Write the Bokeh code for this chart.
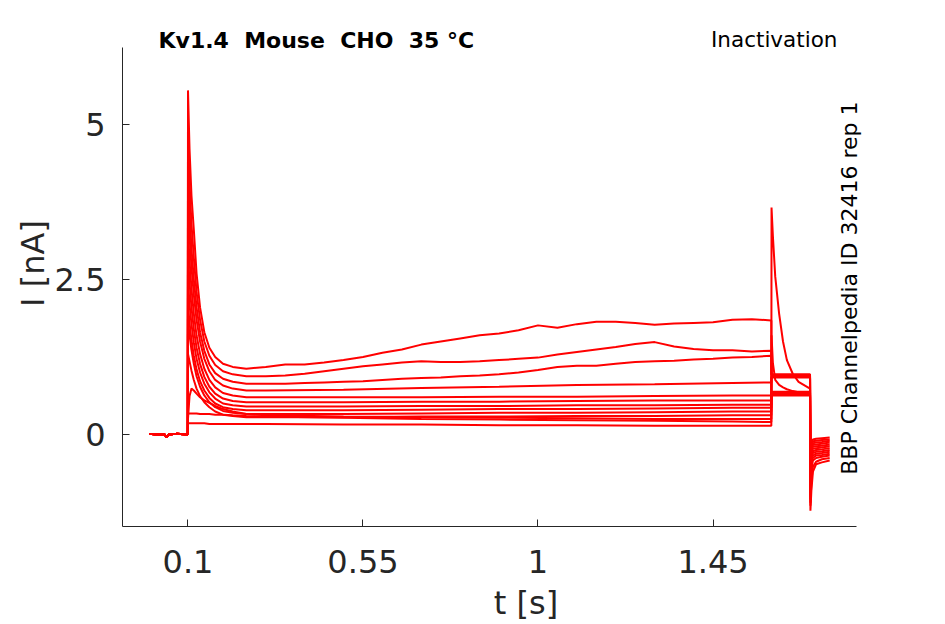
import math
from bokeh.plotting import figure
from bokeh.models import Range1d, FixedTicker, Label
from bokeh.embed import file_html
from bokeh.resources import INLINE

# ---------------- data ----------------
x_ticks = [0.1, 0.55, 1.0, 1.45]
x_tick_labels = ["0.1", "0.55", "1", "1.45"]
y_ticks = [0.0, 2.5, 5.0]
y_tick_labels = ["0", "2.5", "5"]

NB = "\u00a0"
title_text = "Kv1.4" + NB + " Mouse" + NB + " CHO" + NB + " 35 °C"
protocol_text = "Inactivation"
source_text = "BBP Channelpedia ID 32416 rep 1"

# holding period (shared by all sweeps)
t_base = [0.0, 0.02, 0.04, 0.045, 0.05, 0.07, 0.0995]
i_base = [0.01, 0.0, 0.0, -0.05, 0.0, 0.01, 0.0]

# onset of the prepulse
t_decay = [0.1, 0.104, 0.109, 0.115, 0.122, 0.131, 0.142, 0.155, 0.17, 0.19, 0.215, 0.25]
decay_1 = [5.55, 4.6, 3.85, 3.3, 2.6, 2.05, 1.65, 1.40, 1.25, 1.14, 1.09, 1.06]
decay_2 = [4.9, 4.05, 3.4, 2.85, 2.3, 1.85, 1.5, 1.27, 1.12, 1.02, 0.97, 0.94]
decay_3 = [4.3, 3.6, 3.0, 2.5, 2.05, 1.65, 1.35, 1.13, 0.99, 0.9, 0.85, 0.82]
decay_4 = [3.8, 3.2, 2.7, 2.25, 1.85, 1.5, 1.22, 1.02, 0.88, 0.79, 0.74, 0.71]
decay_5 = [3.3, 2.8, 2.35, 1.95, 1.6, 1.3, 1.06, 0.88, 0.76, 0.67, 0.63, 0.60]
decay_6 = [2.9, 2.45, 2.05, 1.7, 1.4, 1.14, 0.93, 0.77, 0.66, 0.58, 0.54, 0.52]
decay_7 = [2.5, 2.1, 1.78, 1.48, 1.22, 1.0, 0.82, 0.68, 0.58, 0.50, 0.47, 0.45]
decay_8 = [2.1, 1.8, 1.52, 1.27, 1.05, 0.86, 0.71, 0.59, 0.50, 0.44, 0.41, 0.39]
decay_9 = [1.84, 1.6, 1.36, 1.14, 0.94, 0.77, 0.63, 0.52, 0.44, 0.38, 0.35, 0.33]
decay_10 = [1.3, 1.18, 1.03, 0.88, 0.74, 0.62, 0.52, 0.44, 0.37, 0.32, 0.30, 0.28]
decay_11 = [0.25, 0.62, 0.74, 0.71, 0.66, 0.60, 0.55, 0.51, 0.46, 0.41, 0.37, 0.33]
decay_12 = [0.33, 0.34, 0.34, 0.34, 0.34, 0.33, 0.33, 0.33, 0.32, 0.32, 0.31, 0.30]
decay_13 = [0.18, 0.18, 0.18, 0.18, 0.18, 0.18, 0.18, 0.17, 0.17, 0.17, 0.17, 0.17]

# rest of the prepulse: fine grid for the three drifting sweeps
t_fine = [0.30, 0.35, 0.40, 0.45, 0.50, 0.55, 0.60, 0.65, 0.70, 0.75, 0.80, 0.85, 0.90,
          0.95, 1.00, 1.05, 1.10, 1.15, 1.20, 1.25, 1.30, 1.35, 1.40, 1.45, 1.50, 1.55, 1.60]
steady_1 = [1.09, 1.13, 1.13, 1.16, 1.20, 1.25, 1.32, 1.37, 1.45, 1.50, 1.55, 1.60, 1.63,
            1.68, 1.76, 1.72, 1.78, 1.82, 1.82, 1.80, 1.77, 1.79, 1.80, 1.81, 1.85, 1.86, 1.84]
steady_2 = [0.94, 0.95, 0.98, 1.02, 1.06, 1.10, 1.13, 1.16, 1.18, 1.17, 1.17, 1.18, 1.20,
            1.22, 1.24, 1.29, 1.33, 1.37, 1.41, 1.46, 1.49, 1.42, 1.38, 1.36, 1.36, 1.34, 1.35]
steady_3 = [0.82, 0.82, 0.83, 0.84, 0.85, 0.86, 0.88, 0.90, 0.91, 0.92, 0.94, 0.95, 0.97,
            1.00, 1.04, 1.09, 1.11, 1.11, 1.14, 1.17, 1.18, 1.19, 1.21, 1.22, 1.24, 1.25, 1.27]
# coarse grid for the flat sweeps
t_coarse = [0.3, 0.5, 0.7, 0.9, 1.1, 1.3, 1.5, 1.6]
steady_4 = [0.71, 0.72, 0.75, 0.77, 0.80, 0.81, 0.83, 0.84]
steady_5 = [0.60, 0.60, 0.60, 0.61, 0.61, 0.62, 0.63, 0.63]
steady_6 = [0.52, 0.52, 0.53, 0.53, 0.54, 0.55, 0.55, 0.55]
steady_7 = [0.45, 0.45, 0.46, 0.46, 0.47, 0.47, 0.48, 0.48]
steady_8 = [0.39, 0.39, 0.40, 0.41, 0.41, 0.42, 0.43, 0.43]
steady_9 = [0.33, 0.33, 0.34, 0.35, 0.35, 0.36, 0.37, 0.37]
steady_10 = [0.28, 0.28, 0.29, 0.29, 0.30, 0.30, 0.31, 0.31]
steady_11 = [0.31, 0.29, 0.28, 0.27, 0.26, 0.25, 0.25, 0.25]
steady_12 = [0.29, 0.27, 0.25, 0.24, 0.23, 0.22, 0.21, 0.20]
steady_13 = [0.17, 0.16, 0.16, 0.15, 0.15, 0.14, 0.14, 0.14]

# test pulse
t_test = [1.6005, 1.604, 1.61, 1.62, 1.63, 1.64, 1.655, 1.67, 1.6995]
test_1 = [0.97, 0.97, 0.97, 0.97, 0.97, 0.97, 0.97, 0.97, 0.97]
test_2 = [0.96, 0.96, 0.96, 0.96, 0.96, 0.96, 0.96, 0.96, 0.96]
test_3 = [0.95, 0.95, 0.95, 0.95, 0.95, 0.95, 0.95, 0.95, 0.95]
test_4 = [0.94, 0.94, 0.94, 0.94, 0.94, 0.94, 0.94, 0.94, 0.94]
test_5 = [0.93, 0.93, 0.93, 0.93, 0.93, 0.93, 0.93, 0.93, 0.93]
test_6 = [0.92, 0.92, 0.92, 0.92, 0.92, 0.92, 0.92, 0.92, 0.92]
test_7 = [0.69, 0.69, 0.69, 0.69, 0.69, 0.69, 0.69, 0.69, 0.69]
test_8 = [0.67, 0.67, 0.67, 0.67, 0.67, 0.67, 0.67, 0.67, 0.67]
test_9 = [0.66, 0.66, 0.66, 0.66, 0.66, 0.66, 0.66, 0.66, 0.66]
test_10 = [0.64, 0.64, 0.64, 0.64, 0.64, 0.64, 0.64, 0.64, 0.64]
test_11 = [0.63, 0.63, 0.63, 0.63, 0.63, 0.63, 0.63, 0.63, 0.63]
test_12 = [1.6, 1.15, 0.88, 0.80, 0.76, 0.73, 0.70, 0.68, 0.66]
test_13 = [3.66, 3.2, 2.55, 1.95, 1.5, 1.2, 0.98, 0.85, 0.74]

# tail after the test pulse
t_tail = [1.7005, 1.703, 1.707, 1.715, 1.73, 1.75]
tail_1 = [-0.60, -0.12, -0.08, -0.07, -0.06, -0.05]
tail_2 = [-0.65, -0.15, -0.11, -0.10, -0.09, -0.08]
tail_3 = [-0.70, -0.18, -0.14, -0.13, -0.12, -0.10]
tail_4 = [-0.75, -0.22, -0.17, -0.16, -0.15, -0.13]
tail_5 = [-0.80, -0.26, -0.20, -0.19, -0.18, -0.16]
tail_6 = [-0.85, -0.30, -0.23, -0.22, -0.21, -0.19]
tail_7 = [-0.90, -0.34, -0.27, -0.25, -0.24, -0.22]
tail_8 = [-0.95, -0.38, -0.30, -0.28, -0.27, -0.25]
tail_9 = [-1.00, -0.42, -0.34, -0.31, -0.30, -0.28]
tail_10 = [-1.05, -0.48, -0.38, -0.34, -0.33, -0.31]
tail_11 = [-1.10, -0.55, -0.42, -0.38, -0.36, -0.34]
tail_12 = [-1.15, -0.75, -0.52, -0.44, -0.40, -0.38]
tail_13 = [-1.23, -0.90, -0.60, -0.48, -0.45, -0.42]

sweeps = [
    (decay_1, t_fine, steady_1, test_1, tail_1),
    (decay_2, t_fine, steady_2, test_2, tail_2),
    (decay_3, t_fine, steady_3, test_3, tail_3),
    (decay_4, t_coarse, steady_4, test_4, tail_4),
    (decay_5, t_coarse, steady_5, test_5, tail_5),
    (decay_6, t_coarse, steady_6, test_6, tail_6),
    (decay_7, t_coarse, steady_7, test_7, tail_7),
    (decay_8, t_coarse, steady_8, test_8, tail_8),
    (decay_9, t_coarse, steady_9, test_9, tail_9),
    (decay_10, t_coarse, steady_10, test_10, tail_10),
    (decay_11, t_coarse, steady_11, test_11, tail_11),
    (decay_12, t_coarse, steady_12, test_12, tail_12),
    (decay_13, t_coarse, steady_13, test_13, tail_13),
]

# axis extents (the visible axis lines)
x_axis_span = (-0.0684, 1.819)
y_axis_span = (-1.484, 6.242)

# ---------------- figure ----------------
FONT = "DejaVu Sans"
INK = "#262626"

W, H = 929, 624
p = figure(width=W, height=H, title=None,
           x_range=Range1d(-0.0684, 2.0067), y_range=Range1d(-1.484, 7.0),
           output_backend="svg", toolbar_location=None,
           min_border_left=122, min_border_right=0,
           min_border_top=0, min_border_bottom=H - 526)
p.outline_line_color = None
p.grid.visible = False
p.background_fill_color = "white"
p.border_fill_color = "white"

for dec, ts, st, te, ta in sweeps:
    xs = t_base + t_decay + ts + t_test + t_tail
    ys = i_base + dec + st + te + ta
    p.line(xs, ys, line_color="#ff0000", line_width=2)

for ax in (p.xaxis[0], p.yaxis[0]):
    ax.axis_line_color = INK
    ax.axis_line_width = 1
    ax.major_tick_line_color = INK
    ax.major_tick_in = 7
    ax.major_tick_out = 0
    ax.minor_tick_in = 0
    ax.minor_tick_out = 0
    ax.major_label_text_font = FONT
    ax.major_label_text_font_size = "32px"
    ax.major_label_text_color = INK
    ax.axis_label_text_font = FONT
    ax.axis_label_text_font_size = "32px"
    ax.axis_label_text_font_style = "normal"
    ax.axis_label_text_color = INK

p.xaxis.bounds = x_axis_span
p.yaxis.bounds = y_axis_span
p.xaxis.ticker = FixedTicker(ticks=x_ticks)
p.xaxis.major_label_overrides = dict(zip(x_ticks, x_tick_labels))
p.yaxis.ticker = FixedTicker(ticks=y_ticks)
p.yaxis.major_label_overrides = dict(zip(y_ticks, y_tick_labels))
p.xaxis.major_label_standoff = 23
p.yaxis.major_label_standoff = 17
p.xaxis.axis_label = "t [s]"
p.yaxis.axis_label = "I [nA]"
p.xaxis.axis_label_standoff = 8
p.yaxis.axis_label_standoff = 0

p.add_layout(Label(x=0.0242, y=6.36, text=title_text, text_font=FONT,
                   text_font_size="22px", text_font_style="bold", text_color="black",
                   text_baseline="alphabetic", text_align="left"))
p.add_layout(Label(x=1.770, y=6.37, text=protocol_text, text_font=FONT,
                   text_font_size="21.5px", text_color="black",
                   text_baseline="alphabetic", text_align="right"))
p.add_layout(Label(x=1.801, y=2.36, text=source_text, text_font=FONT,
                   text_font_size="22px", text_color="black", angle=math.pi / 2,
                   text_baseline="alphabetic", text_align="center"))

open("out.html", "w").write(file_html(p, INLINE))
